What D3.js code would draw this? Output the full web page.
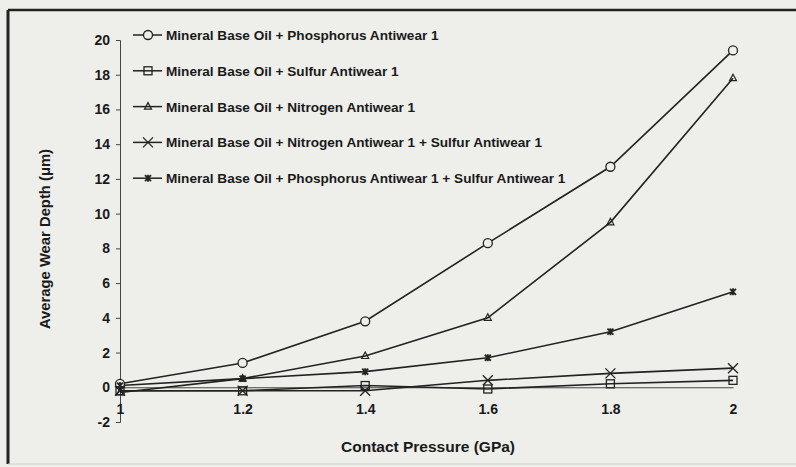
<!DOCTYPE html>
<html><head><meta charset="utf-8">
<script src="https://cdn.jsdelivr.net/npm/d3@7"></script>
<style>
html,body{margin:0;padding:0;background:#eeeeea;}
svg{display:block;}
text{font-family:"Liberation Sans",Arial,sans-serif;font-weight:bold;fill:#1a1a1a;}
</style></head>
<body>
<svg id="chart" width="796" height="467"></svg>
<script>
const pressures = [1, 1.2, 1.4, 1.6, 1.8, 2];
const xTickLabels = ["1", "1.2", "1.4", "1.6", "1.8", "2"];
const yTicks = [-2, 0, 2, 4, 6, 8, 10, 12, 14, 16, 18, 20];
const seriesNames = [
  "Mineral Base Oil + Phosphorus Antiwear 1",
  "Mineral Base Oil + Sulfur Antiwear 1",
  "Mineral Base Oil + Nitrogen Antiwear 1",
  "Mineral Base Oil + Nitrogen Antiwear 1 + Sulfur Antiwear 1",
  "Mineral Base Oil + Phosphorus Antiwear 1 + Sulfur Antiwear 1"
];
const phosphorus = [0.2, 1.4, 3.8, 8.3, 12.7, 19.4];
const sulfur = [-0.2, -0.2, 0.1, -0.1, 0.2, 0.4];
const nitrogen = [-0.3, 0.5, 1.8, 4.0, 9.5, 17.8];
const nitrogenSulfur = [-0.2, -0.2, -0.2, 0.4, 0.8, 1.1];
const phosphorusSulfur = [0.1, 0.5, 0.9, 1.7, 3.2, 5.5];
const markers = ["circle", "square", "triangle", "x", "star"];

const seriesValues = [phosphorus, sulfur, nitrogen, nitrogenSulfur, phosphorusSulfur];

const svg = d3.select("#chart");
const W = 796, H = 467;
const ink = "#222";

// frame
svg.append("rect").attr("x", 0).attr("y", 0).attr("width", W).attr("height", H).attr("fill", "#eeeeea");
svg.append("line").attr("x1", 8).attr("x2", W).attr("y1", 10).attr("y2", 10).attr("stroke", "#222").attr("stroke-width", 2.5);
svg.append("line").attr("x1", 8).attr("x2", 8).attr("y1", 10).attr("y2", 464).attr("stroke", "#222").attr("stroke-width", 3);
svg.append("line").attr("x1", 8).attr("x2", W).attr("y1", 464).attr("y2", 464).attr("stroke", "#ccc").attr("stroke-width", 1);

const x = d3.scaleLinear().domain([1, 2]).range([120, 733]);
const y = d3.scaleLinear().domain([-2, 20]).range([422, 40]);

// y axis
const yAxis = d3.axisLeft(y).tickValues(yTicks).tickSize(4).tickPadding(6).tickFormat(d => String(d));
const gy = svg.append("g").attr("transform", `translate(${x(1)},0)`).call(yAxis);
gy.select(".domain").attr("stroke", "#444").attr("stroke-width", 1);
gy.selectAll(".tick line").attr("stroke", "#444");
gy.selectAll(".tick text").style("font-size", "14px").attr("fill", "#1a1a1a");

// x axis at y=0
const xAxis = d3.axisBottom(x).tickValues(pressures).tickSize(0).tickPadding(17)
  .tickFormat((d, i) => xTickLabels[i]);
const gx = svg.append("g").attr("transform", `translate(0,${y(0)})`).call(xAxis);
gx.select(".domain").attr("stroke", "#444").attr("stroke-width", 1);
gx.selectAll(".tick text").style("font-size", "14px").attr("fill", "#1a1a1a");

// axis titles
svg.append("text").attr("transform", `translate(50,239) rotate(-90)`).attr("text-anchor", "middle")
  .style("font-size", "14.8px").text("Average Wear Depth (μm)");
svg.append("text").attr("x", 428).attr("y", 452).attr("text-anchor", "middle")
  .style("font-size", "15.5px").text("Contact Pressure (GPa)");

function drawMarker(g, type, cx, cy) {
  const s = "#222";
  if (type === "circle") {
    g.append("circle").attr("cx", cx).attr("cy", cy).attr("r", 4.5).attr("fill", "#eeeeea").attr("stroke", s).attr("stroke-width", 1.3);
  } else if (type === "square") {
    g.append("rect").attr("x", cx - 4).attr("y", cy - 4).attr("width", 8).attr("height", 8).attr("fill", "none").attr("stroke", s).attr("stroke-width", 1.3);
  } else if (type === "triangle") {
    g.append("path").attr("d", `M${cx},${cy - 4}L${cx + 3.5},${cy + 2.5}L${cx - 3.5},${cy + 2.5}Z`).attr("fill", "none").attr("stroke", s).attr("stroke-width", 1.2);
  } else if (type === "x") {
    g.append("path").attr("d", `M${cx - 5},${cy - 5}L${cx + 5},${cy + 5}M${cx + 5},${cy - 5}L${cx - 5},${cy + 5}`).attr("stroke", s).attr("stroke-width", 1.3);
  } else if (type === "star") {
    g.append("path").attr("d", `M${cx - 3},${cy - 3}L${cx + 3},${cy + 3}M${cx + 3},${cy - 3}L${cx - 3},${cy + 3}M${cx},${cy - 3.5}L${cx},${cy + 3.5}`).attr("stroke", s).attr("stroke-width", 1.8);
  }
}

const line = d3.line().x((d, i) => x(pressures[i])).y(d => y(d));
const plot = svg.append("g");
seriesValues.forEach((vals, si) => {
  plot.append("path").datum(vals).attr("d", line).attr("fill", "none").attr("stroke", ink).attr("stroke-width", 1.6);
});
seriesValues.forEach((vals, si) => {
  vals.forEach((v, i) => drawMarker(plot, markers[si], x(pressures[i]), y(v)));
});

// legend
const legend = svg.append("g");
seriesNames.forEach((name, i) => {
  const ly = 35 + i * 35.8;
  legend.append("line").attr("x1", 133).attr("x2", 162).attr("y1", ly).attr("y2", ly).attr("stroke", ink).attr("stroke-width", 1.5);
  drawMarker(legend, markers[i], 148, ly);
  legend.append("text").attr("x", 166).attr("y", ly + 5).style("font-size", "13.6px").text(name);
});
</script>
</body></html>
